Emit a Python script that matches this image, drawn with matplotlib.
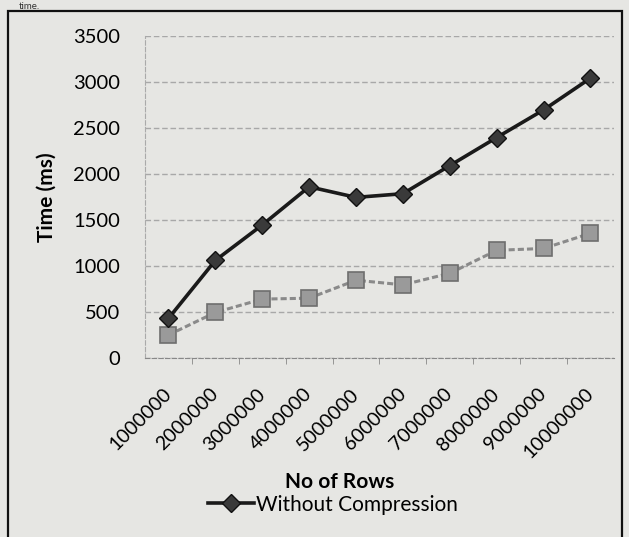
import matplotlib
matplotlib.use("Agg")
import matplotlib.pyplot as plt
from matplotlib.patches import Rectangle

# values
rows = ["1000000", "2000000", "3000000", "4000000", "5000000",
        "6000000", "7000000", "8000000", "9000000", "10000000"]
without_compression = [430, 1060, 1445, 1860, 1745, 1785, 2090, 2395, 2695, 3040]
with_compression = [250, 495, 640, 650, 845, 795, 920, 1170, 1190, 1355]
y_ticks = [0, 500, 1000, 1500, 2000, 2500, 3000, 3500]

plt.rcParams["font.family"] = ["Lato", "DejaVu Sans"]
paper = "#e6e6e3"

fig = plt.figure(figsize=(6.29, 5.37), dpi=100, facecolor=paper)
ax = fig.add_axes([0.2305, 0.3333, 0.7455, 0.6])
ax.set_facecolor(paper)

x = list(range(len(rows)))
ax.plot(x, with_compression, color="#8a8a8a", linestyle=(0, (2, 1)), linewidth=2.2,
        marker="s", markersize=11, markerfacecolor="#9a9a9a",
        markeredgecolor="#6e6e6e", markeredgewidth=1.2, zorder=3)
ax.plot(x, without_compression, color="#1a1a1a", linewidth=2.6,
        marker="D", markersize=9, markerfacecolor="#3a3a3a",
        markeredgecolor="#111111", zorder=4, label="Without Compression")

ax.set_xlim(-0.5, len(rows) - 0.5)
ax.set_ylim(0, 3500)
ax.set_yticks(y_ticks)
ax.set_yticklabels([str(v) for v in y_ticks], fontsize=14.5)
ax.set_xticks(x)
ax.set_xticklabels(rows, rotation=45, ha="right", va="center",
                   rotation_mode="anchor", fontsize=14)
# Excel style: tick marks sit between categories
ax.set_xticks([i + 0.5 for i in x[:-1]], minor=True)
ax.tick_params(axis="y", length=0, pad=18)
ax.tick_params(axis="x", which="major", length=0, pad=24)
ax.tick_params(axis="x", which="minor", length=4, color="#888888")
ax.yaxis.grid(True, color="#a8a8a8", linestyle=(0, (4, 2)), linewidth=1)
for s in ["top", "right"]:
    ax.spines[s].set_visible(False)
ax.spines["left"].set_color("#aaaaaa")
ax.spines["left"].set_linestyle((0, (4, 2)))
ax.spines["bottom"].set_color("#888888")
ax.spines["bottom"].set_linestyle((0, (4, 2)))

ax.set_ylabel("Time (ms)", fontsize=15, fontweight="bold", labelpad=12)
fig.text(0.54, 0.103, "No of Rows", ha="center", va="center", fontsize=15, fontweight="bold")

leg = fig.legend(loc="center", bbox_to_anchor=(0.53, 0.06), frameon=False,
                 fontsize=15, handlelength=2.2, handletextpad=0.1)

# scan border and caption fragment at the top
fig.patches.append(Rectangle((0.013, -0.02), 0.976, 1.0, transform=fig.transFigure,
                             fill=False, edgecolor="#111111", linewidth=1.6))
fig.text(0.03, 0.997, "time.", fontsize=7, ha="left", va="top", color="#333333")

fig.savefig("out.png", dpi=100, facecolor=paper)
